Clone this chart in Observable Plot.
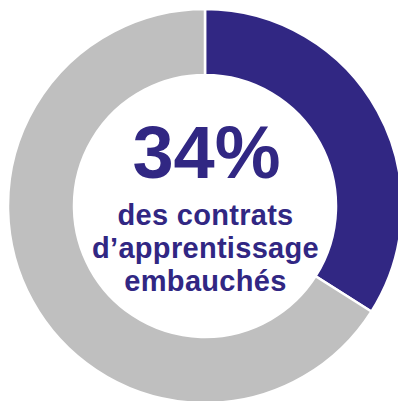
<!DOCTYPE html>
<html>
<head>
<meta charset="utf-8">
<script src="https://cdn.jsdelivr.net/npm/d3@7"></script>
<script src="https://cdn.jsdelivr.net/npm/@observablehq/plot@0.6"></script>
<style>
  html, body { margin: 0; padding: 0; background: #fff; }
  #chart svg { display: block; }
  #chart svg g[aria-label="text"]:last-of-type text { letter-spacing: 0.3px; }
</style>
</head>
<body>
<div id="chart"></div>
<script>
// Data
const categories = ["Embauchés", "Non embauchés"];
const values = [34, 66];
const colors = ["#312783", "#bfbfbf"];
const centerLabel = "34%";
const captionLines = ["des contrats", "d’apprentissage", "embauchés"];

const data = categories.map((c, i) => ({category: c, value: values[i]}));
const innerRatio = 0.665;

function donut(index, scales, channels, dimensions, context) {
  const cx = scales.x(0), cy = scales.y(0);
  const outer = scales.x(1) - scales.x(0);
  const pie = d3.pie().sort(null).value(d => d.value)(data);
  const arc = d3.arc().innerRadius(outer * innerRatio).outerRadius(outer);
  const g = d3.create("svg:g").attr("transform", `translate(${cx},${cy})`);
  g.selectAll("path").data(pie).join("path")
    .attr("d", arc)
    .attr("fill", d => scales.color(d.data.category))
    .attr("stroke", "#fff")
    .attr("stroke-width", 2.5)
    .attr("stroke-linejoin", "miter");
  return g.node();
}

const chart = Plot.plot({
  width: 398,
  height: 401,
  margin: 0,
  x: {domain: [-1, 1], range: [8, 402], axis: null},
  y: {domain: [-1, 1], range: [403, 9], axis: null},
  color: {domain: categories, range: colors},
  style: {fontFamily: "'Liberation Sans', Arial, sans-serif", background: "#fff"},
  marks: [
    donut,
    Plot.text([centerLabel], {
      x: () => 0.005, y: () => 0.411, text: d => d,
      fontSize: 74, fontWeight: "bold", fill: "#312783",
      lineAnchor: "top", textAnchor: "middle"
    }),
    Plot.text([captionLines.join("\n")], {
      x: () => 0.0, y: () => 0.025, text: d => d,
      fontSize: 29, fontWeight: "bold", fill: "#312783",
      lineAnchor: "top", textAnchor: "middle", lineHeight: 1.14
    })
  ]
});
document.getElementById("chart").append(chart);
</script>
</body>
</html>
